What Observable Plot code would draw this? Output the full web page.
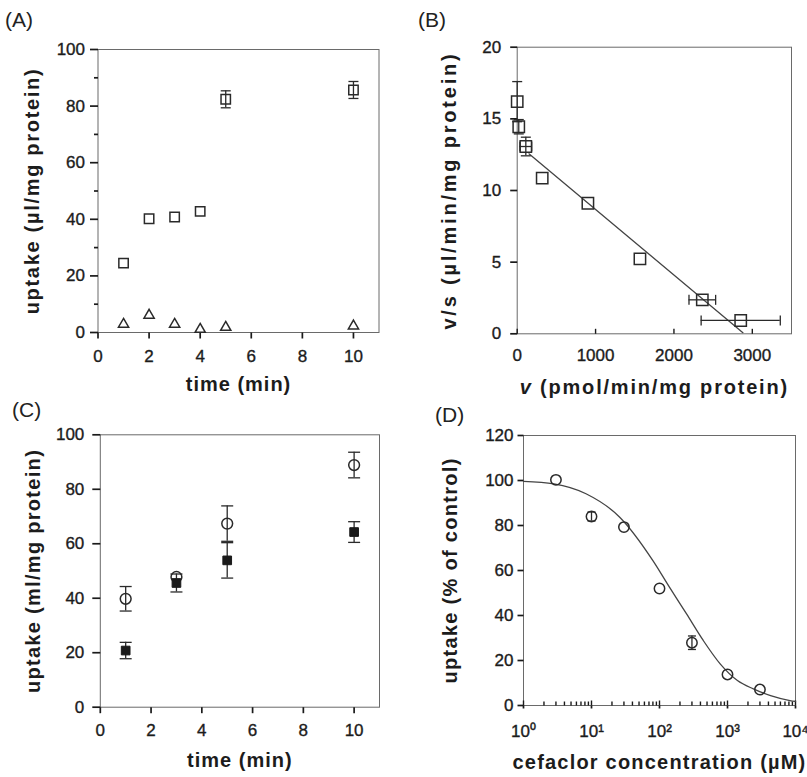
<!DOCTYPE html>
<html><head><meta charset="utf-8">
<script src="https://cdn.jsdelivr.net/npm/d3@7"></script>
<script src="https://cdn.jsdelivr.net/npm/@observablehq/plot@0.6"></script>
<style>
body{margin:0;background:#fff;}
#wrap{position:relative;width:807px;height:777px;overflow:hidden;font-family:"Liberation Sans",Arial,Helvetica,sans-serif;}
.panel{position:absolute;}
.tag{position:absolute;font-size:21px;line-height:21px;color:#222;}
</style></head><body><div id="wrap"></div>
<script>
// ---------- data ----------
// (A)
const timeA = [1, 2, 3, 4, 5, 10];
const squareA = [24.5, 40.2, 40.8, 42.8, 82.4, 85.7];
const squareAErr = [0, 0, 0, 0, 3, 3];
const triangleA = [2.9, 6.1, 2.9, 1.1, 1.8, 2.3];
const xTicksA = [0, 2, 4, 6, 8, 10];
const yTicksA = [0, 20, 40, 60, 80, 100];
const yMinorA = [10, 30, 50, 70, 90];
// (B)
const vB = [0, 20, 110, 319, 902, 1566, 2362, 2852];
const vsB = [16.2, 14.45, 13.07, 10.86, 9.11, 5.23, 2.37, 0.93];
const vsErrB = [1.4, 0.5, 0.65, 0, 0, 0, 0, 0];
const vErrB = [0, 0, 75, 0, 0, 0, 170, 505];
const fitV = [150, 2880];
const fitVS = [12.56, 0.08];
const xTicksB = [0, 1000, 2000, 3000];
const yTicksB = [0, 5, 10, 15, 20];
// (C)
const timeC = [1, 3, 5, 10];
const circleC = [39.8, 47.8, 67.4, 88.9];
const circleCErr = [4.5, 0, 6.5, 4.7];
const squareC = [20.8, 45.6, 53.9, 64.3];
const squareCErr = [3, 3.3, 6.5, 3.8];
const xTicksC = [0, 2, 4, 6, 8, 10];
const yTicksC = [0, 20, 40, 60, 80, 100];
// (D)
const concD = [3, 10, 30, 100, 300, 1000, 3000];
const uptakeD = [100.3, 84, 79.3, 52, 27.9, 13.8, 7.1];
const uptakeDErr = [0, 2, 0, 0, 3, 0, 0];
const fitConc = [1, 2.8, 8.3, 26, 80, 140, 250, 440, 780, 1400, 2400, 4300, 8300, 10000];
const fitUptake = [99.6, 98.5, 94.1, 83.7, 64.4, 52.6, 40.7, 28.9, 18.5, 11.1, 7.4, 4.4, 2.2, 1.8];
const xTicksD = [1, 10, 100, 1000, 10000];
const yTicksD = [0, 20, 40, 60, 80, 100, 120];
const xMinorD = [];
for (const dec of [1, 10, 100, 1000]) for (let m = 2; m <= 9; m++) xMinorD.push(dec * m);

// ---------- helpers ----------
const INK = "#2a2a2a";
const TICK = "#1a1a1a";
const common = {fontFamily: '"Liberation Sans", Arial, Helvetica, sans-serif', fontSize: "17px", color: "#1c1c1c", background: "transparent", overflow: "visible"};
// custom symbols: r = half length (caps) or full length (ticks)
const hCap = {draw(ctx, size) { const w = Math.sqrt(size / Math.PI); ctx.moveTo(-w, 0); ctx.lineTo(w, 0); }};
const vCap = {draw(ctx, size) { const w = Math.sqrt(size / Math.PI); ctx.moveTo(0, -w); ctx.lineTo(0, w); }};
const tickSym = (dx, dy) => ({draw(ctx, size) { const w = Math.sqrt(size / Math.PI); ctx.moveTo(0, 0); ctx.lineTo(dx * w, dy * w); }});
const leftTick = tickSym(-1, 0), downTick = tickSym(0, 1), upTick = tickSym(0, -1);

function yErr(rows, x, y, e, capR) {
  const er = rows.filter(d => d[e] > 0);
  const caps = er.flatMap(d => [{x: d[x], y: d[y] - d[e]}, {x: d[x], y: d[y] + d[e]}]);
  return [
    Plot.ruleX(er, {x, y1: d => d[y] - d[e], y2: d => d[y] + d[e], stroke: INK, strokeWidth: 1.3}),
    Plot.dot(caps, {x: "x", y: "y", symbol: hCap, r: capR, fill: "none", stroke: INK, strokeWidth: 1.3})
  ];
}
function xErr(rows, x, y, e, capR) {
  const er = rows.filter(d => d[e] > 0);
  const caps = er.flatMap(d => [{x: d[x] - d[e], y: d[y]}, {x: d[x] + d[e], y: d[y]}]);
  return [
    Plot.ruleY(er, {y, x1: d => d[x] - d[e], x2: d => d[x] + d[e], stroke: INK, strokeWidth: 1.3}),
    Plot.dot(caps, {x: "x", y: "y", symbol: vCap, r: capR, fill: "none", stroke: INK, strokeWidth: 1.3})
  ];
}
// tick marks as small line symbols sitting on the axes (x0 / y0 = domain minimum)
const yTicks = (vals, x0, len) => Plot.dot(vals, {x: () => x0, y: d => d, symbol: leftTick, r: len, fill: "none", stroke: TICK, strokeWidth: 1.7});
const xTicksOut = (vals, y0, len) => Plot.dot(vals, {x: d => d, y: () => y0, symbol: downTick, r: len, fill: "none", stroke: TICK, strokeWidth: 1.7});
const xTicksIn = (vals, y0, len) => Plot.dot(vals, {x: d => d, y: () => y0, symbol: upTick, r: len, fill: "none", stroke: TICK, strokeWidth: 1.4});

function styleLabels(svg, xs, ys, italicV) {
  svg.querySelectorAll('[aria-label="x-axis label"], [aria-label="y-axis label"]').forEach(g => {
    g.style.fontSize = "20px";
    g.style.fontWeight = "bold";
    g.style.letterSpacing = (g.getAttribute("aria-label")[0] === "x" ? xs : ys) + "px";
  });
  svg.querySelectorAll('[aria-label="x-axis tick label"], [aria-label="y-axis tick label"]').forEach(g => {
    g.style.stroke = "#1c1c1c";
    g.style.strokeWidth = "0.35px";
  });
  if (italicV) {
    const t = svg.querySelector('[aria-label="x-axis label"] text');
    if (t) {
      const rest = t.textContent.replace(/^v/, "");
      t.textContent = "";
      const ns = "http://www.w3.org/2000/svg";
      const a = document.createElementNS(ns, "tspan"); a.setAttribute("font-style", "italic"); a.textContent = "v";
      const b = document.createElementNS(ns, "tspan"); b.textContent = rest;
      t.appendChild(a); t.appendChild(b);
    }
  }
}
function place(svg, left, top) {
  const d = document.createElement("div");
  d.className = "panel"; d.style.left = left + "px"; d.style.top = top + "px";
  d.appendChild(svg); document.getElementById("wrap").appendChild(d);
}
function tag(text, left, top) {
  const d = document.createElement("div");
  d.className = "tag"; d.style.left = left + "px"; d.style.top = top + "px"; d.textContent = text;
  document.getElementById("wrap").appendChild(d);
}

// ---------- (A) ----------
const rowsA = timeA.map((t, i) => ({t, sq: squareA[i], e: squareAErr[i], tri: triangleA[i]}));
const plotA = Plot.plot({
  width: 400, height: 390, marginLeft: 97.5, marginRight: 21.5, marginTop: 49, marginBottom: 58,
  x: {domain: [0, 11]}, y: {domain: [0, 100]},
  style: common,
  marks: [
    Plot.frame({stroke: "#6a6a6a"}),
    yTicks(yMinorA, 0, 4),
    yTicks(yTicksA, 0, 8),
    xTicksOut(xTicksA, 0, 6),
    Plot.axisY({ticks: yTicksA, tickSize: 0, tickPadding: 13, label: "uptake (µl/mg protein)", labelAnchor: "center", labelOffset: 73, labelArrow: "none"}),
    Plot.axisX({ticks: xTicksA, tickSize: 0, tickPadding: 17, label: "time (min)", labelAnchor: "center", labelOffset: 58, labelArrow: "none"}),
    ...yErr(rowsA, "t", "sq", "e", 5),
    Plot.dot(rowsA, {x: "t", y: "sq", symbol: "square", r: 5.3, fill: "none", stroke: INK, strokeWidth: 1.5}),
    Plot.dot(rowsA, {x: "t", y: "tri", symbol: "triangle", r: 3.8, fill: "none", stroke: INK, strokeWidth: 1.5})
  ]
});
styleLabels(plotA, 1.0, 1.7, false);
place(plotA, 0, 0);

// ---------- (B) ----------
const rowsB = vB.map((v, i) => ({v, vs: vsB[i], ey: vsErrB[i], ex: vErrB[i]}));
const fitB = fitV.map((v, i) => ({v, vs: fitVS[i]}));
const plotB = Plot.plot({
  width: 407, height: 390, marginLeft: 116.7, marginRight: 16, marginTop: 46.7, marginBottom: 56.7,
  x: {domain: [0, 3500]}, y: {domain: [0, 20]},
  style: common,
  marks: [
    Plot.frame({stroke: "#6a6a6a"}),
    yTicks(yTicksB, 0, 7),
    xTicksIn(xTicksB, 0, 5),
    Plot.axisY({ticks: yTicksB, tickSize: 0, tickPadding: 16, label: "v/s (µl/min/mg protein)", labelAnchor: "center", labelOffset: 75, labelArrow: "none"}),
    Plot.axisX({ticks: xTicksB, tickSize: 0, tickPadding: 15, tickFormat: d3.format("d"), label: "v (pmol/min/mg protein)", labelAnchor: "center", labelOffset: 60, labelArrow: "none"}),
    Plot.line(fitB, {x: "v", y: "vs", stroke: "#444", strokeWidth: 1.3}),
    ...yErr(rowsB, "v", "vs", "ey", 5),
    ...xErr(rowsB, "v", "vs", "ex", 5),
    Plot.dot(rowsB, {x: "v", y: "vs", symbol: "square", r: 6.4, fill: "none", stroke: INK, strokeWidth: 1.5})
  ]
});
styleLabels(plotB, 1.8, 2.8, true);
place(plotB, 400, 0);

// ---------- (C) ----------
const rowsC = timeC.map((t, i) => ({t, c: circleC[i], ce: circleCErr[i], s: squareC[i], se: squareCErr[i]}));
const plotC = Plot.plot({
  width: 400, height: 387, marginLeft: 99.8, marginRight: 21, marginTop: 44.3, marginBottom: 70.3,
  x: {domain: [0, 11]}, y: {domain: [0, 100]},
  style: common,
  marks: [
    Plot.frame({stroke: "#6a6a6a"}),
    yTicks(yTicksC, 0, 8),
    xTicksOut(xTicksC, 0, 6),
    Plot.axisY({ticks: yTicksC, tickSize: 0, tickPadding: 16, label: "uptake (ml/mg protein)", labelAnchor: "center", labelOffset: 75, labelArrow: "none"}),
    Plot.axisX({ticks: xTicksC, tickSize: 0, tickPadding: 17, label: "time (min)", labelAnchor: "center", labelOffset: 60, labelArrow: "none"}),
    ...yErr(rowsC, "t", "c", "ce", 6),
    ...yErr(rowsC, "t", "s", "se", 6),
    Plot.dot(rowsC, {x: "t", y: "c", symbol: "circle", r: 5.4, fill: "none", stroke: INK, strokeWidth: 1.5}),
    Plot.dot(rowsC, {x: "t", y: "s", symbol: "square", r: 4.9, fill: "#1a1a1a", stroke: "#1a1a1a", strokeWidth: 1})
  ]
});
styleLabels(plotC, 1.0, 1.3, false);
place(plotC, 0, 390);

// ---------- (D) ----------
const rowsD = concD.map((c, i) => ({c, u: uptakeD[i], e: uptakeDErr[i]}));
const fitD = fitConc.map((c, i) => ({c, u: fitUptake[i]}));
const sup = d => "10" + "⁰¹²³⁴"[Math.round(Math.log10(d))];
const plotD = Plot.plot({
  width: 407, height: 387, marginLeft: 123, marginRight: 12, marginTop: 45, marginBottom: 72,
  x: {type: "log", domain: [1, 10000]}, y: {domain: [0, 120]},
  style: common,
  marks: [
    Plot.frame({stroke: "#6a6a6a"}),
    yTicks(yTicksD, 1, 6),
    xTicksOut(xTicksD, 0, 3),
    xTicksIn(xTicksD, 0, 5),
    xTicksIn(xMinorD, 0, 4),
    Plot.axisY({ticks: yTicksD, tickSize: 0, tickPadding: 10, label: "uptake (% of control)", labelAnchor: "center", labelOffset: 81, labelArrow: "none"}),
    Plot.axisX({ticks: xTicksD, tickSize: 0, tickPadding: 19, tickFormat: sup, label: "cefaclor concentration (µM)", labelAnchor: "center", labelOffset: 63, labelArrow: "none"}),
    Plot.line(fitD, {x: "c", y: "u", curve: "monotone-x", stroke: "#444", strokeWidth: 1.3}),
    ...yErr(rowsD, "c", "u", "e", 4),
    Plot.dot(rowsD, {x: "c", y: "u", symbol: "circle", r: 5.2, fill: "none", stroke: INK, strokeWidth: 1.5})
  ]
});
styleLabels(plotD, 1.2, 1.3, false);
place(plotD, 400, 390);

// panel tags
tag("(A)", 5, 9);
tag("(B)", 418, 9);
tag("(C)", 12, 399);
tag("(D)", 435, 404);
</script></body></html>
